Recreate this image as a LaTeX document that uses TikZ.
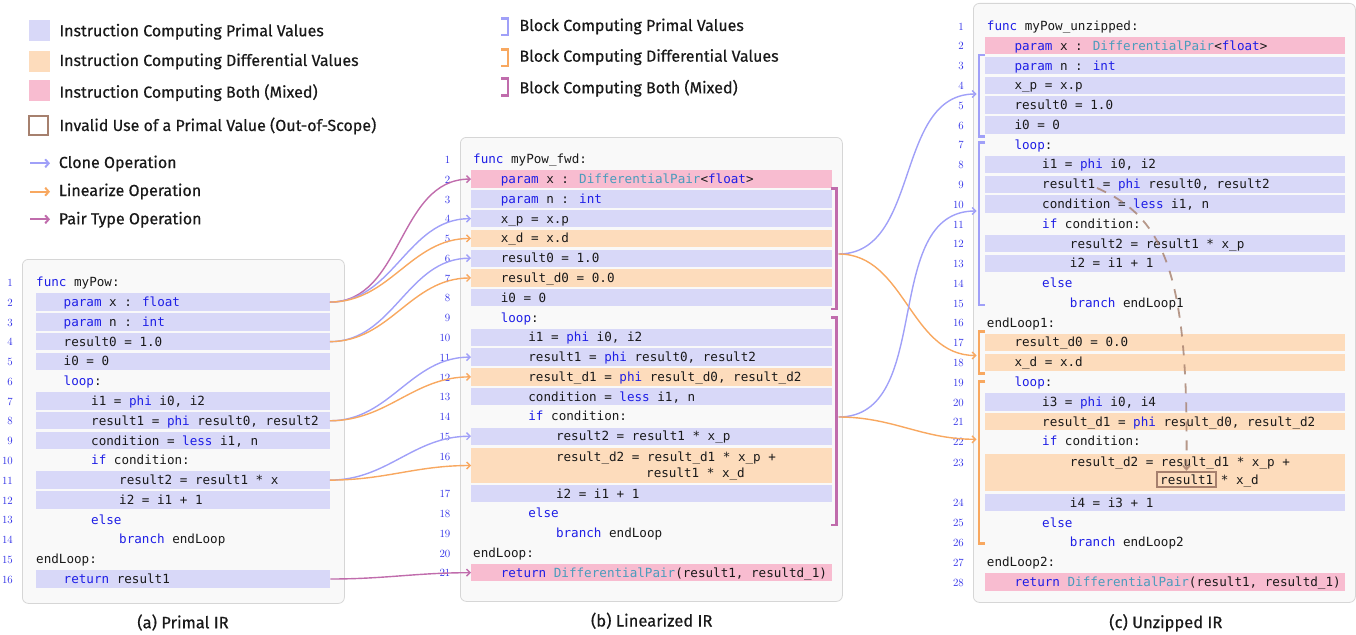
\documentclass[tikz,border=0pt]{standalone}
\usepackage{fontspec}
\usetikzlibrary{arrows.meta}
\newfontfamily\legfont{Fira Sans}[FakeBold=0.5]
\newfontfamily\codefont{DejaVu Sans Mono}
\definecolor{primal}{RGB}{216,216,248}
\definecolor{diffc}{RGB}{253,220,188}
\definecolor{mixc}{RGB}{248,188,208}
\definecolor{blueA}{RGB}{160,160,248}
\definecolor{orangeA}{RGB}{248,168,96}
\definecolor{purpleA}{RGB}{192,108,172}
\definecolor{kwc}{RGB}{30,30,230}
\definecolor{tyc}{RGB}{74,156,188}
\definecolor{numc}{RGB}{40,40,230}
\definecolor{txtc}{RGB}{25,25,25}
\definecolor{brownc}{RGB}{166,128,110}
\definecolor{panelfill}{RGB}{249,249,249}
\definecolor{paneldraw}{RGB}{214,214,214}
\newcommand\kw[1]{\textcolor{kwc}{#1}}
\newcommand\ty[1]{\textcolor{tyc}{#1}}
\newcommand\codeln[4]{\node[code] (#1) at (#2,#3) {#4};}
\newcommand\hlrow[5]{\node[#5, minimum width=#4] (#1) at (#2,#3) {};}
\begin{document}
\begin{tikzpicture}[x=1pt,y=-1pt,
  panel/.style={draw=paneldraw, fill=panelfill, rounded corners=6pt, line width=0.8pt, anchor=north west, inner sep=0pt},
  barbase/.style={anchor=west, inner sep=0pt, minimum height=17.4pt, draw=none},
  pbar/.style={barbase, fill=primal},
  dbar/.style={barbase, fill=diffc},
  mbar/.style={barbase, fill=mixc},
  code/.style={anchor=base west, yshift=-4.5pt, inner sep=0pt, font=\codefont\fontsize{12.6}{14}\selectfont, text=txtc},
  lnum/.style={anchor=base east, yshift=-4.2pt, inner sep=0pt, font=\fontsize{11}{11}\selectfont, text=numc},
  leg/.style={anchor=base west, inner sep=0pt, font=\legfont\fontsize{16}{18}\selectfont, text=txtc},
  captxt/.style={anchor=base, inner sep=0pt, font=\legfont\fontsize{16.5}{18}\selectfont, text=txtc},
  legsq/.style={minimum size=21pt, inner sep=0pt, draw=none},
  conn/.style={line width=1.4pt, -{Straight Barb[length=3.5pt,width=7pt]}},
  clone/.style={conn, draw=blueA},
  lin/.style={conn, draw=orangeA},
  pair/.style={conn, draw=purpleA},
  legarr/.style={line width=2pt, -{Straight Barb[length=3.5pt,width=8pt]}},
  brk/.style={line width=2.7pt, line cap=butt, line join=miter},
  invalid/.style={draw=brownc, line width=1.8pt, inner sep=0pt},
  dangling/.style={draw=brownc, draw opacity=0.8, line width=1.8pt, dash pattern=on 10pt off 9pt, -{Straight Barb[length=4pt,width=7pt]}}
]
\useasboundingbox (0,0) rectangle (1356,634);

% ---------------- legend ----------------
\node[legsq, fill=primal] (lg1) at (39.5,30.5) {};
\node[legsq, fill=diffc] (lg2) at (39.5,61.2) {};
\node[legsq, fill=mixc] (lg3) at (39.5,90.4) {};
\node[invalid, fill=white, minimum size=19pt] (lg4) at (38.7,125.4) {};
\node[leg] (lt1) at (59.3,36.3) {Instruction Computing Primal Values};
\node[leg] (lt2) at (59.3,66) {Instruction Computing Differential Values};
\node[leg] (lt3) at (59.3,97.7) {Instruction Computing Both (Mixed)};
\node[leg] (lt4) at (59.3,131) {Invalid Use of a Primal Value (Out-of-Scope)};
\coordinate (la1s) at (30,163.3); \coordinate (la1e) at (50,163.3);
\coordinate (la2s) at (30,191.7); \coordinate (la2e) at (50,191.7);
\coordinate (la3s) at (30,219.3); \coordinate (la3e) at (50,219.3);
\draw[legarr, blueA] (la1s) -- (la1e);
\draw[legarr, orangeA] (la2s) -- (la2e);
\draw[legarr, purpleA] (la3s) -- (la3e);
\node[leg] (lt5) at (58.7,168) {Clone Operation};
\node[leg] (lt6) at (58.7,196) {Linearize Operation};
\node[leg] (lt7) at (58.7,224.3) {Pair Type Operation};

\draw[brk, blueA] (501,18.5) -- (508,18.5) -- (508,35) -- (501,35);
\draw[brk, orangeA] (501,49.5) -- (508,49.5) -- (508,66) -- (501,66);
\draw[brk, purpleA] (501,78.5) -- (508,78.5) -- (508,95.5) -- (501,95.5);
\node[leg] (lb1) at (519.3,31) {Block Computing Primal Values};
\node[leg] (lb2) at (519.3,61.7) {Block Computing Differential Values};
\node[leg] (lb3) at (519.3,93.3) {Block Computing Both (Mixed)};

% ---------------- panels ----------------
\node[panel, minimum width=322pt, minimum height=344pt] (boxa) at (22,259) {};
\node[panel, minimum width=382pt, minimum height=464pt] (boxb) at (460,137) {};
\node[panel, minimum width=382pt, minimum height=599pt] (boxc) at (973,3) {};

% ---------------- panel (a) ----------------
\foreach \n in {1,...,16} {
  \pgfmathsetmacro\yy{282.3+(\n-1)*19.78}
  \node[lnum] (an\n) at (13,\yy) {\n};
}
\hlrow{a2b}{35.5}{302.08}{294}{pbar}
\hlrow{a3b}{35.5}{321.86}{294}{pbar}
\hlrow{a4b}{35.5}{341.64}{294}{pbar}
\hlrow{a5b}{35.5}{361.42}{294}{pbar}
\hlrow{a7b}{35.5}{400.98}{294}{pbar}
\hlrow{a8b}{35.5}{420.76}{294}{pbar}
\hlrow{a9b}{35.5}{440.54}{294}{pbar}
\hlrow{a11b}{35.5}{480.1}{294}{pbar}
\hlrow{a12b}{35.5}{499.88}{294}{pbar}
\hlrow{a16b}{36}{579.0}{294}{pbar}
\codeln{a1}{36}{282.3}{\kw{func} myPow:}
\codeln{a2}{63.5}{302.08}{\kw{param} x : \kw{float}}
\codeln{a3}{63.5}{321.86}{\kw{param} n : \kw{int}}
\codeln{a4}{63.5}{341.64}{result0 = 1.0}
\codeln{a5}{63.5}{361.42}{i0 = 0}
\codeln{a6}{63.5}{381.2}{\kw{loop}:}
\codeln{a7}{91}{400.98}{i1 = \kw{phi} i0, i2}
\codeln{a8}{91}{420.76}{result1 = \kw{phi} result0, result2}
\codeln{a9}{91}{440.54}{condition = \kw{less} i1, n}
\codeln{a10}{91}{460.32}{\kw{if} condition:}
\codeln{a11}{119}{480.1}{result2 = result1 * x}
\codeln{a12}{119}{499.88}{i2 = i1 + 1}
\codeln{a13}{91}{519.66}{\kw{else}}
\codeln{a14}{119}{539.44}{\kw{branch} endLoop}
\codeln{a15}{36}{559.22}{endLoop:}
\codeln{a16}{63.5}{579.0}{\kw{return} result1}
\node[captxt] (capa) at (183,628.3) {(a) Primal IR};

% ---------------- panel (b) ----------------
\foreach \n in {1,...,15} {
  \pgfmathsetmacro\yy{159.3+(\n-1)*19.78}
  \node[lnum] (bn\n) at (450.5,\yy) {\n};
}
\node[lnum] (bn16) at (450.5,456.7) {16};
\foreach \n in {17,...,21} {
  \pgfmathsetmacro\yy{493.5+(\n-17)*19.8}
  \node[lnum] (bn\n) at (450.5,\yy) {\n};
}
\hlrow{b2b}{471}{179.08}{360.5}{mbar}
\hlrow{b3b}{471}{198.86}{360.5}{pbar}
\hlrow{b4b}{471}{218.64}{360.5}{pbar}
\hlrow{b5b}{471}{238.42}{360.5}{dbar}
\hlrow{b6b}{471}{258.2}{360.5}{pbar}
\hlrow{b7b}{471}{277.98}{360.5}{dbar}
\hlrow{b8b}{471}{297.76}{360.5}{pbar}
\hlrow{b10b}{471}{337.32}{360.5}{pbar}
\hlrow{b11b}{471}{357.1}{360.5}{pbar}
\hlrow{b12b}{471}{376.88}{360.5}{dbar}
\hlrow{b13b}{471}{396.66}{360.5}{pbar}
\hlrow{b15b}{471}{436.22}{360.5}{pbar}
\node[dbar, minimum width=360.5, minimum height=34.4pt] (b16b) at (471,465.5) {};
\hlrow{b17b}{471}{493.5}{360.5}{pbar}
\hlrow{b21b}{471}{572.7}{360.5}{mbar}
\codeln{b1}{473}{159.3}{\kw{func} myPow\_fwd:}
\codeln{b2}{500.6}{179.08}{\kw{param} x : \ty{DifferentialPair}<\kw{float}>}
\codeln{b3}{500.6}{198.86}{\kw{param} n : \kw{int}}
\codeln{b4}{500.6}{218.64}{x\_p = x.p}
\codeln{b5}{500.6}{238.42}{x\_d = x.d}
\codeln{b6}{500.6}{258.2}{result0 = 1.0}
\codeln{b7}{500.6}{277.98}{result\_d0 = 0.0}
\codeln{b8}{500.6}{297.76}{i0 = 0}
\codeln{b9}{500.6}{317.54}{\kw{loop}:}
\codeln{b10}{528.2}{337.32}{i1 = \kw{phi} i0, i2}
\codeln{b11}{528.2}{357.1}{result1 = \kw{phi} result0, result2}
\codeln{b12}{528.2}{376.88}{result\_d1 = \kw{phi} result\_d0, result\_d2}
\codeln{b13}{528.2}{396.66}{condition = \kw{less} i1, n}
\codeln{b14}{528.2}{416.44}{\kw{if} condition:}
\codeln{b15}{555.8}{436.22}{result2 = result1 * x\_p}
\codeln{b16}{555.8}{456.7}{result\_d2 = result\_d1 * x\_p +}
\codeln{b16c}{646}{472.7}{result1 * x\_d}
\codeln{b17}{555.8}{493.5}{i2 = i1 + 1}
\codeln{b18}{528.2}{513.3}{\kw{else}}
\codeln{b19}{555.8}{533.1}{\kw{branch} endLoop}
\codeln{b20}{473}{552.9}{endLoop:}
\codeln{b21}{500.6}{572.7}{\kw{return} \ty{DifferentialPair}(result1, resultd\_1)}
\draw[brk, purpleA] (831,188.3) -- (836.5,188.3) -- (836.5,309) -- (831,309);
\draw[brk, purpleA] (831,317.7) -- (836.5,317.7) -- (836.5,525) -- (831,525);
\node[captxt] (capb) at (651.7,626.5) {(b) Linearized IR};

% ---------------- panel (c) ----------------
\foreach \n in {1,...,22} {
  \pgfmathsetmacro\yy{26+(\n-1)*19.78}
  \node[lnum] (cn\n) at (964,\yy) {\n};
}
\node[lnum] (cn23) at (964,462) {23};
\foreach \n in {24,...,28} {
  \pgfmathsetmacro\yy{502.7+(\n-24)*19.8}
  \node[lnum] (cn\n) at (964,\yy) {\n};
}
\hlrow{c2b}{985}{45.78}{360}{mbar}
\hlrow{c3b}{985}{65.56}{360}{pbar}
\hlrow{c4b}{985}{85.34}{360}{pbar}
\hlrow{c5b}{985}{105.12}{360}{pbar}
\hlrow{c6b}{985}{124.9}{360}{pbar}
\hlrow{c8b}{985}{164.46}{360}{pbar}
\hlrow{c9b}{985}{184.24}{360}{pbar}
\hlrow{c10b}{985}{204.02}{360}{pbar}
\hlrow{c12b}{985}{243.58}{360}{pbar}
\hlrow{c13b}{985}{263.36}{360}{pbar}
\hlrow{c17b}{985}{342.48}{360}{dbar}
\hlrow{c18b}{985}{362.26}{360}{dbar}
\hlrow{c20b}{985}{401.82}{360}{pbar}
\hlrow{c21b}{985}{421.6}{360}{dbar}
\node[dbar, minimum width=360, minimum height=36.7pt] (c23b) at (985,472.3) {};
\hlrow{c24b}{985}{502.7}{360}{pbar}
\hlrow{c28b}{985}{581.9}{360}{mbar}
\codeln{c1}{986.7}{26}{\kw{func} myPow\_unzipped:}
\codeln{c2}{1014.3}{45.78}{\kw{param} x : \ty{DifferentialPair}<\kw{float}>}
\codeln{c3}{1014.3}{65.56}{\kw{param} n : \kw{int}}
\codeln{c4}{1014.3}{85.34}{x\_p = x.p}
\codeln{c5}{1014.3}{105.12}{result0 = 1.0}
\codeln{c6}{1014.3}{124.9}{i0 = 0}
\codeln{c7}{1014.3}{144.68}{\kw{loop}:}
\codeln{c8}{1042}{164.46}{i1 = \kw{phi} i0, i2}
\codeln{c9}{1042}{184.24}{result1 = \kw{phi} result0, result2}
\codeln{c10}{1042}{204.02}{condition = \kw{less} i1, n}
\codeln{c11}{1042}{223.8}{\kw{if} condition:}
\codeln{c12}{1069.7}{243.58}{result2 = result1 * x\_p}
\codeln{c13}{1069.7}{263.36}{i2 = i1 + 1}
\codeln{c14}{1042}{283.14}{\kw{else}}
\codeln{c15}{1069.7}{302.92}{\kw{branch} endLoop1}
\codeln{c16}{986.7}{322.7}{endLoop1:}
\codeln{c17}{1014.3}{342.48}{result\_d0 = 0.0}
\codeln{c18}{1014.3}{362.26}{x\_d = x.d}
\codeln{c19}{1014.3}{382.04}{\kw{loop}:}
\codeln{c20}{1042}{401.82}{i3 = \kw{phi} i0, i4}
\codeln{c21}{1042}{421.6}{result\_d1 = \kw{phi} result\_d0, result\_d2}
\codeln{c22}{1042}{441.38}{\kw{if} condition:}
\codeln{c23}{1069.7}{462}{result\_d2 = result\_d1 * x\_p +}
\codeln{c23c}{1160}{480}{result1 * x\_d}
\codeln{c24}{1069.7}{502.7}{i4 = i3 + 1}
\codeln{c25}{1042}{522.5}{\kw{else}}
\codeln{c26}{1069.7}{542.3}{\kw{branch} endLoop2}
\codeln{c27}{986.7}{562.1}{endLoop2:}
\codeln{c28}{1014.3}{581.9}{\kw{return} \ty{DifferentialPair}(result1, resultd\_1)}
\node[invalid, minimum width=59pt, minimum height=15.6pt] (boxr) at (1186.4,479.5) {};
\draw[brk, blueA] (985,55) -- (979,55) -- (979,136.7) -- (985,136.7);
\draw[brk, blueA] (985,142.7) -- (979,142.7) -- (979,305) -- (985,305);
\draw[brk, orangeA] (985,331.7) -- (979,331.7) -- (979,373.3) -- (985,373.3);
\draw[brk, orangeA] (985,381.7) -- (979,381.7) -- (979,543.3) -- (985,543.3);
\node[captxt] (capc) at (1165.8,628) {(c) Unzipped IR};

% dangling use
\coordinate (dst) at (1097,188);
\draw[dangling] (dst) .. controls (1165,218) and (1189,275) .. (boxr.north);

% ---------------- connectors (a) -> (b) ----------------
\draw[pair]  (a2b.east) to[out=0,in=180] (b2b.west);
\draw[clone] (a2b.east) to[out=0,in=180] (b4b.west);
\draw[lin]   (a2b.east) to[out=0,in=180] (b5b.west);
\draw[clone] (a4b.east) to[out=0,in=180] (b6b.west);
\draw[lin]   (a4b.east) to[out=0,in=180] (b7b.west);
\draw[clone] (a8b.east) to[out=0,in=180] (b11b.west);
\draw[lin]   (a8b.east) to[out=0,in=180] (b12b.west);
\draw[clone] (a11b.east) to[out=0,in=180] (b15b.west);
\draw[lin]   (a11b.east) to[out=0,in=180] (b16b.west);
\draw[pair]  (a16b.east) to[out=0,in=180] (b21b.west);

% ---------------- connectors (b) -> (c) ----------------
\coordinate (bk1) at (838.5,254);
\coordinate (bk2) at (838.5,417);
\coordinate (ck1) at (976.5,94);
\coordinate (ck2) at (976.5,211);
\coordinate (ck3) at (976.5,355.5);
\coordinate (ck4) at (976.5,439.3);
\draw[clone] (bk1) to[out=0,in=180] (ck1);
\draw[lin]   (bk1) to[out=0,in=180] (ck3);
\draw[clone] (bk2) to[out=0,in=180] (ck2);
\draw[lin]   (bk2) to[out=0,in=180] (ck4);
\end{tikzpicture}
\end{document}
